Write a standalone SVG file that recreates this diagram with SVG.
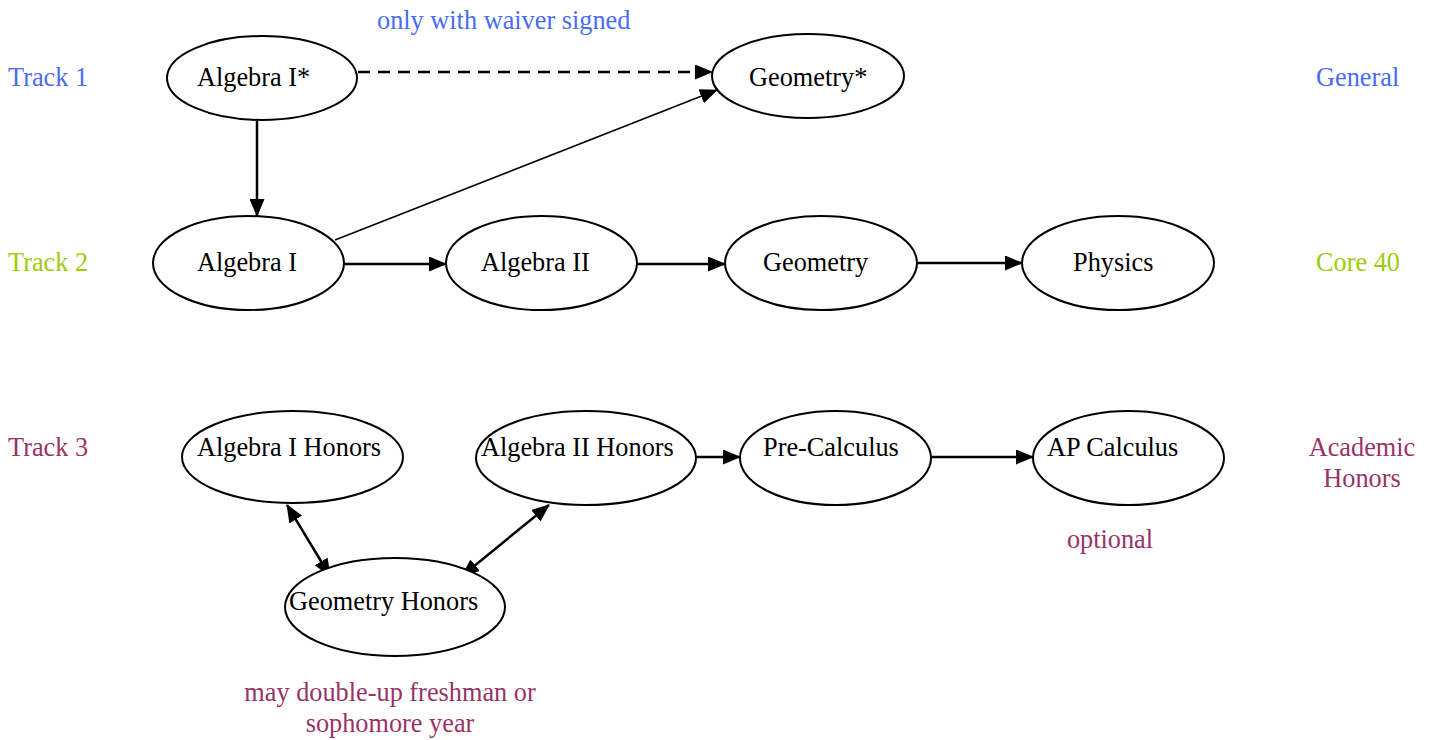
<svg xmlns="http://www.w3.org/2000/svg" width="1434" height="740" viewBox="0 0 1434 740">
<style>
.n{fill:#fff;stroke:#000;stroke-width:2}
.t{font-family:"Liberation Serif","Times New Roman",serif;font-size:26.3px;fill:#000}
.c{text-anchor:middle}
.blue{fill:#4a6cf5}
.green{fill:#9ccc0a}
.mag{fill:#993366}
.e{fill:none;stroke:#000;stroke-width:2.5}
.thin{stroke-width:1.6}
.dash{stroke-dasharray:12 8}
</style>
<defs>
<marker id="ah" markerUnits="userSpaceOnUse" markerWidth="18" markerHeight="15" refX="17" refY="7.5" orient="auto-start-reverse" viewBox="0 0 18 15">
<path d="M0,0 L18,7.5 L0,15 Z" fill="#000"/>
</marker>
</defs>
<g id="labels">
<text class="t blue" x="377" y="29">only with waiver signed</text>
<text class="t blue" x="8" y="86">Track 1</text>
<text class="t green" x="8" y="271">Track 2</text>
<text class="t mag" x="8" y="456">Track 3</text>
<text class="t blue" x="1316" y="86">General</text>
<text class="t green" x="1316" y="271">Core 40</text>
<text class="t mag c" x="1362" y="456">Academic</text>
<text class="t mag c" x="1362" y="487">Honors</text>
<text class="t mag c" x="1110" y="548">optional</text>
<text class="t mag c" x="390" y="701">may double-up freshman or</text>
<text class="t mag c" x="390" y="732">sophomore year</text>
</g>
<g id="connectors">
<line class="e dash" x1="358" y1="72" x2="712" y2="72" marker-end="url(#ah)"/>
<line class="e" x1="257" y1="120" x2="257" y2="216" marker-end="url(#ah)"/>
<line class="e thin" x1="335" y1="240" x2="717" y2="90" marker-end="url(#ah)"/>
<line class="e" x1="344" y1="264" x2="446" y2="264" marker-end="url(#ah)"/>
<line class="e" x1="637" y1="264" x2="725" y2="264" marker-end="url(#ah)"/>
<line class="e" x1="917" y1="263" x2="1022" y2="263" marker-end="url(#ah)"/>
<line class="e" x1="696" y1="457" x2="740" y2="457" marker-end="url(#ah)"/>
<line class="e" x1="931" y1="457" x2="1033" y2="457" marker-end="url(#ah)"/>
<line class="e" x1="287" y1="505" x2="330" y2="576" marker-start="url(#ah)" marker-end="url(#ah)"/>
<line class="e" x1="462" y1="576" x2="549" y2="505" marker-start="url(#ah)" marker-end="url(#ah)"/>
</g>
<g id="algebra1star"><ellipse class="n" cx="262" cy="78" rx="95" ry="42"/><text class="t" x="197" y="86">Algebra I*</text></g>
<g id="geometrystar"><ellipse class="n" cx="808" cy="76" rx="96" ry="42"/><text class="t" x="749" y="86">Geometry*</text></g>
<g id="algebra1"><ellipse class="n" cx="248.5" cy="263" rx="95.5" ry="47"/><text class="t" x="197" y="271">Algebra I</text></g>
<g id="algebra2"><ellipse class="n" cx="541.5" cy="263" rx="95.5" ry="47"/><text class="t" x="481" y="271">Algebra II</text></g>
<g id="geometry"><ellipse class="n" cx="821" cy="263" rx="96" ry="47"/><text class="t" x="763" y="271">Geometry</text></g>
<g id="physics"><ellipse class="n" cx="1118" cy="263" rx="96" ry="47"/><text class="t" x="1073" y="271">Physics</text></g>
<g id="algebra1honors"><ellipse class="n" cx="292.5" cy="457" rx="110.5" ry="46"/><text class="t" x="197" y="456">Algebra I Honors</text></g>
<g id="algebra2honors"><ellipse class="n" cx="586" cy="458" rx="110" ry="47"/><text class="t" x="481" y="456">Algebra II Honors</text></g>
<g id="precalculus"><ellipse class="n" cx="835.5" cy="458" rx="95.5" ry="47"/><text class="t" x="763" y="456">Pre-Calculus</text></g>
<g id="apcalculus"><ellipse class="n" cx="1128.5" cy="458" rx="95.5" ry="47"/><text class="t" x="1047" y="456">AP Calculus</text></g>
<g id="geometryhonors"><ellipse class="n" cx="395" cy="607" rx="110" ry="49"/><text class="t" x="289" y="610">Geometry Honors</text></g>
</svg>
